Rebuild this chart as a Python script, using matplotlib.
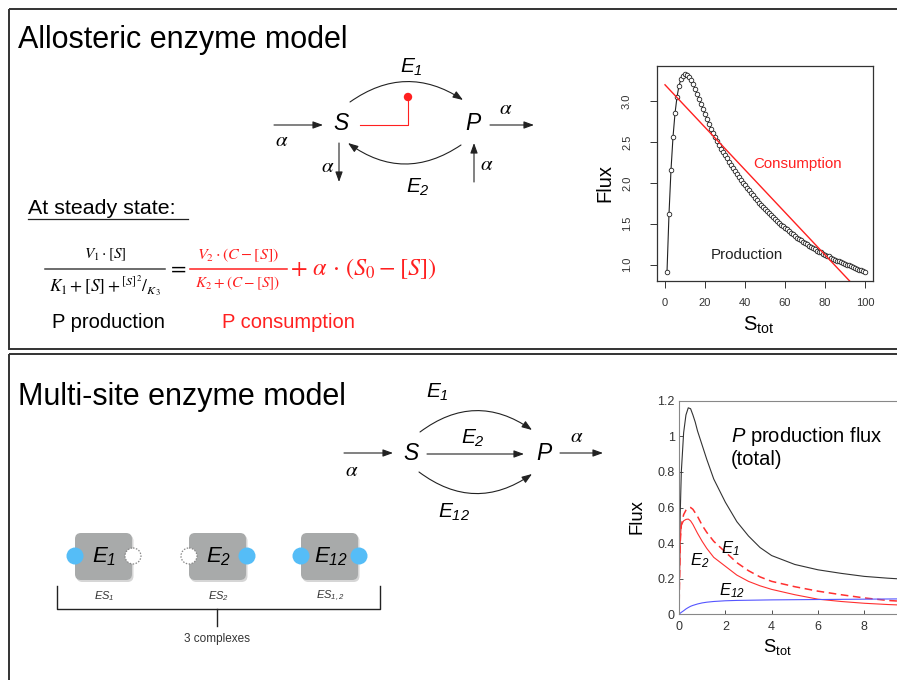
import numpy as np
import matplotlib
matplotlib.use('Agg')
import matplotlib.pyplot as plt
from matplotlib.patches import FancyArrowPatch, FancyBboxPatch, Circle, Rectangle

plt.rcParams['font.family'] = ['Liberation Sans', 'DejaVu Sans']
plt.rcParams['mathtext.fontset'] = 'custom'
plt.rcParams['mathtext.rm'] = 'Liberation Sans:italic'
plt.rcParams['mathtext.it'] = 'Liberation Sans:italic'
plt.rcParams['mathtext.sf'] = 'Liberation Sans'

# ---- allosteric model: flux vs total substrate ----
stot_allo = list(range(1, 101))
production = [0.91, 1.62, 2.16, 2.56, 2.85, 3.05, 3.19, 3.27, 3.31, 3.33,
              3.32, 3.30, 3.26, 3.21, 3.15, 3.09, 3.03, 2.97, 2.90, 2.84,
              2.78, 2.72, 2.66, 2.61, 2.56, 2.51, 2.46, 2.42, 2.38, 2.34,
              2.30, 2.26, 2.22, 2.18, 2.14, 2.11, 2.07, 2.04, 2.00, 1.97,
              1.94, 1.91, 1.88, 1.85, 1.82, 1.79, 1.76, 1.73, 1.71, 1.68,
              1.66, 1.63, 1.61, 1.58, 1.56, 1.54, 1.51, 1.49, 1.47, 1.45,
              1.43, 1.41, 1.39, 1.37, 1.35, 1.33, 1.31, 1.30, 1.28, 1.26,
              1.25, 1.23, 1.22, 1.20, 1.19, 1.17, 1.16, 1.15, 1.13, 1.12,
              1.11, 1.10, 1.08, 1.07, 1.06, 1.05, 1.04, 1.03, 1.02, 1.01,
              1.00, 0.99, 0.98, 0.97, 0.96, 0.95, 0.94, 0.93, 0.92, 0.91]
consumption_x = [0, 100]
consumption_y = [3.20, 0.60]
allo_xticks = [0, 20, 40, 60, 80, 100]
allo_yticks = [1.0, 1.5, 2.0, 2.5, 3.0]

# ---- multi-site model: flux vs total substrate ----
stot_ms = [0, 0.05, 0.1, 0.2, 0.3, 0.4, 0.5, 0.6, 0.7, 0.8, 1.0, 1.2, 1.5,
           2.0, 2.5, 3.0, 3.5, 4.0, 5.0, 6.0, 7.0, 8.0, 9.0, 10.0]
flux_total = [0, 0.55, 0.80, 1.02, 1.12, 1.16, 1.155, 1.12, 1.08, 1.03, 0.95,
              0.87, 0.76, 0.63, 0.52, 0.44, 0.375, 0.33, 0.28, 0.25, 0.23,
              0.213, 0.203, 0.195]
flux_e1 = [0, 0.40, 0.50, 0.56, 0.585, 0.597, 0.60, 0.59, 0.57, 0.55, 0.50,
           0.46, 0.41, 0.35, 0.29, 0.245, 0.21, 0.185, 0.155, 0.13, 0.11,
           0.092, 0.078, 0.07]
flux_e2 = [0, 0.42, 0.50, 0.525, 0.533, 0.535, 0.525, 0.505, 0.48, 0.455,
           0.41, 0.37, 0.32, 0.27, 0.22, 0.185, 0.16, 0.14, 0.11, 0.085,
           0.072, 0.062, 0.055, 0.05]
flux_e12 = [0, 0.006, 0.011, 0.02, 0.03, 0.038, 0.045, 0.05, 0.054, 0.058,
            0.064, 0.068, 0.072, 0.076, 0.078, 0.079, 0.080, 0.081, 0.082,
            0.083, 0.084, 0.085, 0.086, 0.087]
ms_xticks = [0, 2, 4, 6, 8]
ms_yticks = [0, 0.2, 0.4, 0.6, 0.8, 1.0, 1.2]
ms_yticklabels = ['0', '0.2', '0.4', '0.6', '0.8', '1', '1.2']

W, H = 897, 680
fig = plt.figure(figsize=(W / 100, H / 100), dpi=100)

# canvas in pixel units for the schemes
dg = fig.add_axes([0, 0, 1, 1])
dg.set_xlim(0, W)
dg.set_ylim(H, 0)
dg.axis('off')

INK = '#222222'
RED = '#ff2020'


def arrow(p0, p1, rad=0.0, color=INK):
    dg.add_patch(FancyArrowPatch(p0, p1, connectionstyle='arc3,rad=%g' % rad,
                                 arrowstyle='-|>,head_length=0.55,head_width=0.2',
                                 mutation_scale=11, lw=0.8, color=color,
                                 shrinkA=0, shrinkB=0))


def alpha(x, y, **kw):
    dg.text(x, y, r'$\alpha$', fontsize=15, ha='center', va='center',
            math_fontfamily='stix', **kw)


def node(x, y, s):
    dg.text(x, y, s, fontsize=16.5, style='italic', ha='center', va='center')


# panel frames
for y0, h in [(8.5, 340.5), (354, 340)]:
    dg.add_patch(Rectangle((8.5, y0), 900, h, fill=False, ec='#333333', lw=1.4))

# ---------------- top panel ----------------
dg.text(18, 40, 'Allosteric enzyme model', fontsize=22, va='center')

node(341, 124, 'S')
node(473, 124, 'P')
dg.text(411, 67, r'$E_1$', fontsize=15, ha='center', va='center')
dg.text(418, 187, r'$E_2$', fontsize=15, ha='center', va='center')
arrow((274, 125), (323, 125))
alpha(282, 141)
arrow((490, 125), (534, 125))
alpha(506, 108)
arrow((339, 143), (339, 182))
alpha(328, 167)
arrow((474, 182), (474, 143))
alpha(487, 164)
arrow((350, 102), (463, 100), rad=-0.34)
arrow((461, 145), (348, 143), rad=-0.35)
# allosteric inhibition of E1 by S
dg.plot([360, 408, 408], [125, 125, 97], color=RED, lw=0.8)
dg.add_patch(Circle((408, 97), 3.5, color=RED))

dg.text(28, 208, 'At steady state:', fontsize=15.4, va='center')
dg.plot([28, 188], [219, 219], color=INK, lw=0.9)

eq = dict(math_fontfamily='stix', ha='center', va='center')
dg.text(105, 255, r'$V_1\cdot[S]$', fontsize=11, **eq)
dg.plot([45, 165], [269, 269], color='#444444', lw=1.1)
dg.text(105, 286, r'$K_1 + [S] + {}^{[S]^2}/_{K_3}$', fontsize=12.5, **eq)
dg.text(177, 268, r'$=$', fontsize=16, **eq)
dg.text(238, 255, r'$V_2\cdot(C - [S])$', fontsize=11.5, color=RED, **eq)
dg.plot([190, 287], [269, 269], color=RED, lw=1.1)
dg.text(238, 283, r'$K_2 + (C - [S])$', fontsize=11, color=RED, **eq)
dg.text(290, 269, r'$+\ \alpha\,\cdot\,(S_0 - [S])$', fontsize=17.5, color=RED,
        math_fontfamily='stix', ha='left', va='center')
dg.text(52, 323, 'P production', fontsize=14.5, va='center')
dg.text(222, 323, 'P consumption', fontsize=14.5, va='center', color=RED)

# ---------------- bottom panel ----------------
dg.text(18, 397, 'Multi-site enzyme model', fontsize=22, va='center')

node(411, 453, 'S')
node(544, 453, 'P')
dg.text(437, 392, r'$E_1$', fontsize=15, ha='center', va='center')
dg.text(473, 438, r'$E_2$', fontsize=15, ha='center', va='center')
dg.text(454, 512, r'$E_{12}$', fontsize=15, ha='center', va='center')
arrow((344, 453), (393, 453))
alpha(352, 470)
arrow((427, 454), (524, 454))
arrow((560, 453), (603, 453))
alpha(577, 437)
arrow((420, 432), (532, 430), rad=-0.36)
arrow((419, 472), (532, 474), rad=0.36)

# enzyme complexes
boxes = [(75, 'E_1', 'ES_1', (True, False)),
         (189, 'E_2', 'ES_2', (False, True)),
         (301, 'E_{12}', 'ES_{1,2}', (True, True))]
for x0, lab, sub, sites in boxes:
    dg.add_patch(FancyBboxPatch((x0 + 1.5, 535), 57, 47,
                                boxstyle='round,pad=0,rounding_size=6',
                                fc='#d6d6d6', ec='none'))
    dg.add_patch(FancyBboxPatch((x0, 533), 57, 47,
                                boxstyle='round,pad=0,rounding_size=6',
                                fc='#a8aaaa', ec='none'))
    for side, bound in zip((x0, x0 + 58), sites):
        if bound:
            dg.add_patch(Circle((side, 556), 8.5, fc='#55bdf7', ec='none'))
        else:
            dg.add_patch(Circle((side, 556), 8, fc='white', ec='#888888',
                                lw=0.9, ls=(0, (1.2, 1.2))))
    dg.text(x0 + 29.5, 557, '$%s$' % lab, fontsize=16, ha='center', va='center')
    dg.text(x0 + 29.5, 596, '$%s$' % sub, fontsize=8, ha='center', va='center',
            color='#333333')

dg.plot([57, 57, 380, 380], [586, 609, 609, 586], color=INK, lw=1)
dg.plot([217, 217], [609, 626], color=INK, lw=1)
dg.text(217, 639, '3 complexes', fontsize=8.5, ha='center', va='center',
        color='#333333')

# ---------------- allosteric flux plot ----------------
ax1 = fig.add_axes([657 / W, 1 - 281 / H, 216 / W, 215 / H])
ax1.plot(stot_allo, production, color=INK, lw=0.8, marker='o', ms=3.3,
         mfc='white', mec='#222222', mew=0.6)
ax1.plot(consumption_x, consumption_y, color=RED, lw=1)
ax1.set_xlim(-4, 104)
ax1.set_ylim(0.8, 3.43)
ax1.set_xticks(allo_xticks)
ax1.set_yticks(allo_yticks)
ax1.set_yticklabels(['%.1f' % v for v in allo_yticks], rotation=90, va='center')
ax1.tick_params(direction='out', length=5, width=0.7, labelsize=8,
                colors='#333333')
ax1.tick_params(axis='x', pad=7)
ax1.tick_params(axis='y', pad=13)
for sp in ax1.spines.values():
    sp.set_color('#333333')
    sp.set_linewidth(0.9)
ax1.text(44, 2.23, 'Consumption', color=RED, fontsize=10.8, va='center')
ax1.text(22.7, 1.12, 'Production', color=INK, fontsize=10.9, va='center')
dg.text(605, 183, 'Flux', fontsize=14.5, rotation=90, ha='center', va='center')
dg.text(759, 325, r'$\mathsf{S}_{\mathsf{tot}}$', fontsize=14.5, ha='center',
        va='center')

# ---------------- multi-site flux plot ----------------
ax2 = fig.add_axes([679 / W, 1 - 614.3 / H, 231.6 / W, 213.6 / H])
ax2.plot(stot_ms, flux_total, color='#333333', lw=0.8)
ax2.plot(stot_ms, flux_e1, color='#ff3030', lw=1.1, ls=(0, (5, 3)))
ax2.plot(stot_ms, flux_e2, color='#ff3030', lw=0.8)
ax2.plot(stot_ms, flux_e12, color='#5555ff', lw=0.8)
ax2.set_xlim(0, 10)
ax2.set_ylim(0, 1.2)
ax2.set_xticks(ms_xticks)
ax2.set_yticks(ms_yticks)
ax2.set_yticklabels(ms_yticklabels)
ax2.tick_params(direction='in', length=3, width=0.6, labelsize=9,
                colors='#333333')
ax2.tick_params(axis='y', pad=3)
ax2.tick_params(axis='x', pad=5)
for sp in ax2.spines.values():
    sp.set_color('#888888')
    sp.set_linewidth(0.8)
ax2.text(2.24, 1.0, '$P$ production flux', fontsize=14.5, va='center')
ax2.text(2.24, 0.867, '(total)', fontsize=14.5, va='center')
ax2.text(2.22, 0.367, '$E_1$', fontsize=12, ha='center', va='center')
ax2.text(0.9, 0.30, '$E_2$', fontsize=12, ha='center', va='center')
ax2.text(2.28, 0.135, '$E_{12}$', fontsize=12, ha='center', va='center')
dg.text(637, 517, 'Flux', fontsize=13.3, rotation=90, ha='center', va='center')
dg.text(777, 647, r'$\mathsf{S}_{\mathsf{tot}}$', fontsize=13.3, ha='center',
        va='center')

fig.savefig('out.png', dpi=100)
